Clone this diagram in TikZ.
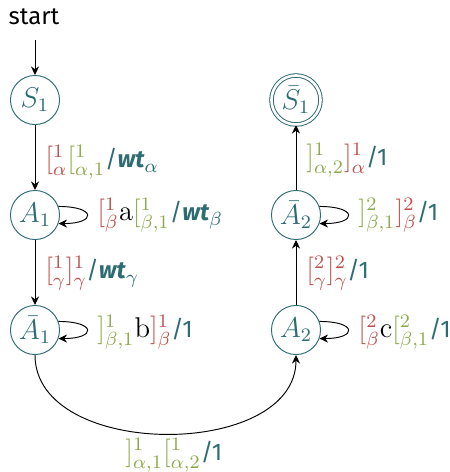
\documentclass[tikz,border=0pt]{standalone}
\usepackage[no-math]{fontspec}
\setmainfont{Fira Sans}[Scale=0.84]
\usetikzlibrary{arrows.meta}
\definecolor{tealc}{HTML}{2E6C74}
\definecolor{redc}{HTML}{C0504D}
\definecolor{greenc}{HTML}{8DAA4C}
\newcommand{\rd}[1]{\textcolor{redc}{$#1$}}
\newcommand{\gr}[1]{\textcolor{greenc}{$#1$}}
\newcommand{\tl}[1]{\textcolor{tealc}{#1}}
\newcommand{\wt}{\textbf{\textit{wt}}}
\tikzset{
  state/.style={circle,draw=tealc,text=tealc,minimum size=20.6pt,inner sep=0pt},
  accstate/.style={state,double=white,double distance=1.1pt},
  lbl/.style={anchor=west,inner sep=0pt},
  conn/.style={-{Stealth[length=3.6pt,width=3.4pt]},line width=0.4pt},
}
\begin{document}
\begin{tikzpicture}[x=0.42pt,y=-0.42pt,font=\fontsize{12}{14}\selectfont]
\useasboundingbox (0,0) rectangle (450,472);
\node (start) at (34,17) {start};
\node[state] (S1) at (35,100) {$S_1$};
\node[state] (A1) at (35,215) {$A_1$};
\node[state] (B1) at (35,330) {$\bar{A}_1$};
\node[accstate] (T1) at (296,100) {$\bar{S}_1$};
\node[state] (B2) at (296,215) {$\bar{A}_2$};
\node[state] (A2) at (296,330) {$A_2$};

\coordinate (st) at (35,40);
\draw[conn] (st) -- (S1);
\draw[conn] (S1) -- (A1);
\draw[conn] (A1) -- (B1);
\draw[conn] (A2) -- (B2);
\draw[conn] (B2) -- (T1);
\draw[conn] (A1.20) .. controls +(38,0) and +(38,0) .. (A1.-20);
\draw[conn] (B1.20) .. controls +(38,0) and +(38,0) .. (B1.-20);
\draw[conn] (B2.20) .. controls +(38,0) and +(38,0) .. (B2.-20);
\draw[conn] (A2.20) .. controls +(38,0) and +(38,0) .. (A2.-20);
\draw[conn] (B1.south) .. controls +(0,105) and +(0,105) .. (A2.south);

\node[lbl] (l1) at (45,162) {\rd{[^1_\alpha}\gr{[^1_{\alpha,1}}\tl{/\wt$_\alpha$}};
\node[lbl] (l2) at (97,215) {\rd{[^1_\beta}$\mathrm{a}$\gr{[^1_{\beta,1}}\tl{/\wt$_\beta$}};
\node[lbl] (l3) at (45,273) {\rd{[^1_\gamma]^1_\gamma}\tl{/\wt$_\gamma$}};
\node[lbl] (l4) at (97,332) {\gr{]^1_{\beta,1}}$\mathrm{b}$\rd{]^1_\beta}\tl{/1}};
\node[lbl] (l5) at (306,160) {\gr{]^1_{\alpha,2}}\rd{]^1_\alpha}\tl{/1}};
\node[lbl] (l6) at (358,215) {\gr{]^2_{\beta,1}}\rd{]^2_\beta}\tl{/1}};
\node[lbl] (l7) at (306,273) {\rd{[^2_\gamma]^2_\gamma}\tl{/1}};
\node[lbl] (l8) at (358,332) {\rd{[^2_\beta}$\mathrm{c}$\gr{[^2_{\beta,1}}\tl{/1}};
\node[lbl] (l9) at (125,455) {\gr{]^1_{\alpha,1}[^1_{\alpha,2}}\tl{/1}};
\end{tikzpicture}
\end{document}
